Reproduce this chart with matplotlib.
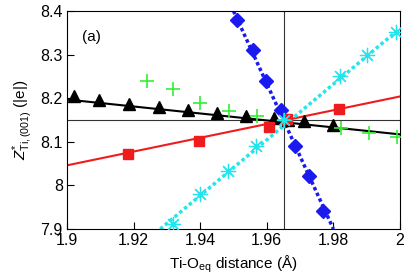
import matplotlib
matplotlib.use("Agg")
import matplotlib.pyplot as plt
import numpy as np

plt.rcParams['font.family'] = ['Liberation Sans', 'DejaVu Sans']
plt.rcParams['mathtext.fontset'] = 'custom'
plt.rcParams['mathtext.rm'] = 'Liberation Sans'
plt.rcParams['mathtext.it'] = 'Liberation Sans:italic'

# Black triangles
tri_x = [1.9022, 1.9097, 1.9185, 1.9277, 1.9362, 1.9450, 1.9537, 1.9622, 1.9665, 1.9712, 1.9800]
tri_y = [8.205, 8.196, 8.186, 8.179, 8.173, 8.165, 8.160, 8.155, 8.150, 8.148, 8.139]
black_line_x = [1.90, 2.00]
black_line_y = [8.197, 8.117]

# Red squares
sq_x = [1.9183, 1.9396, 1.9608, 1.9660, 1.9817]
sq_y = [8.073, 8.102, 8.134, 8.152, 8.175]
red_line_x = [1.90, 2.00]
red_line_y = [8.046, 8.204]

# Green plus
plus_x = [1.9241, 1.9319, 1.9400, 1.9486, 1.9570, 1.9653, 1.9822, 1.9908, 1.9990]
plus_y = [8.239, 8.222, 8.190, 8.170, 8.159, 8.150, 8.132, 8.121, 8.111]

# Blue diamonds
dia_x = [1.9511, 1.9559, 1.9599, 1.9642, 1.9686, 1.9728, 1.9770]
dia_y = [8.379, 8.310, 8.239, 8.172, 8.091, 8.021, 7.942]
blue_line_x = [1.9500, 1.9800]
blue_line_y = [8.400, 7.900]

# Cyan asterisks
ast_x = [1.9317, 1.9398, 1.9483, 1.9568, 1.9652, 1.9820, 1.9902, 1.9988]
ast_y = [7.911, 7.981, 8.032, 8.091, 8.151, 8.251, 8.300, 8.352]
cyan_line_x = [1.9280, 2.00]
cyan_line_y = [7.900, 8.360]

ref_x = 1.9653
ref_y = 8.151

xticks = [1.9, 1.92, 1.94, 1.96, 1.98, 2.0]
xtick_labels = ['1.9', '1.92', '1.94', '1.96', '1.98', '2']
yticks = [7.9, 8.0, 8.1, 8.2, 8.3, 8.4]
ytick_labels = ['7.9', '8', '8.1', '8.2', '8.3', '8.4']

fig = plt.figure(figsize=(4.07, 2.78), dpi=100)
ax = fig.add_axes([67/407, 1 - 229/278, (400-67)/407, (229-11)/278])

ax.axvline(ref_x, color='#333333', lw=0.8, zorder=1)
ax.axhline(ref_y, color='#333333', lw=0.8, zorder=1)

ax.plot(black_line_x, black_line_y, color='black', lw=1.5, zorder=2)
ax.plot(red_line_x, red_line_y, color='#ee1c1c', lw=1.5, zorder=2)
ax.plot(blue_line_x, blue_line_y, color='#1a1aee', lw=2.5, ls=(0, (1, 0.8)), zorder=2)
ax.plot(cyan_line_x, cyan_line_y, color='#22e6ee', lw=2.5, ls=(0, (1, 0.8)), zorder=2)

ax.plot(tri_x, tri_y, ls='none', marker='^', color='black', ms=8.5, zorder=3)
ax.plot(sq_x, sq_y, ls='none', marker='s', color='#ee1c1c', ms=7.5, zorder=3)
ax.plot(plus_x, plus_y, ls='none', marker='+', color='#33ee33', ms=10, mew=1.2, zorder=4)
ax.plot(dia_x, dia_y, ls='none', marker='D', color='#1a1aee', ms=7, zorder=3)
ax.plot(ast_x, ast_y, ls='none', marker=(8, 2, 0), color='#22e6ee', ms=11, mew=0.9, zorder=4)

ax.set_xlim(1.9, 2.0)
ax.set_ylim(7.9, 8.4)
ax.set_xticks(xticks)
ax.set_xticklabels(xtick_labels)
ax.set_yticks(yticks)
ax.set_yticklabels(ytick_labels)
ax.tick_params(direction='in', length=5, width=0.8, labelsize=11.5, pad=3)
for s in ax.spines.values():
    s.set_linewidth(0.8)

ax.text(0.045, 0.88, '(a)', transform=ax.transAxes, fontsize=11, va='center', ha='left')
ax.set_xlabel(r'Ti-O$_{\mathrm{eq}}$ distance (Å)', fontsize=11, labelpad=4)
ax.set_ylabel(r'$Z^{*}_{\mathrm{Ti,(001)}}$ (|e|)', fontsize=11, labelpad=4)

fig.savefig('out.png', dpi=100)
